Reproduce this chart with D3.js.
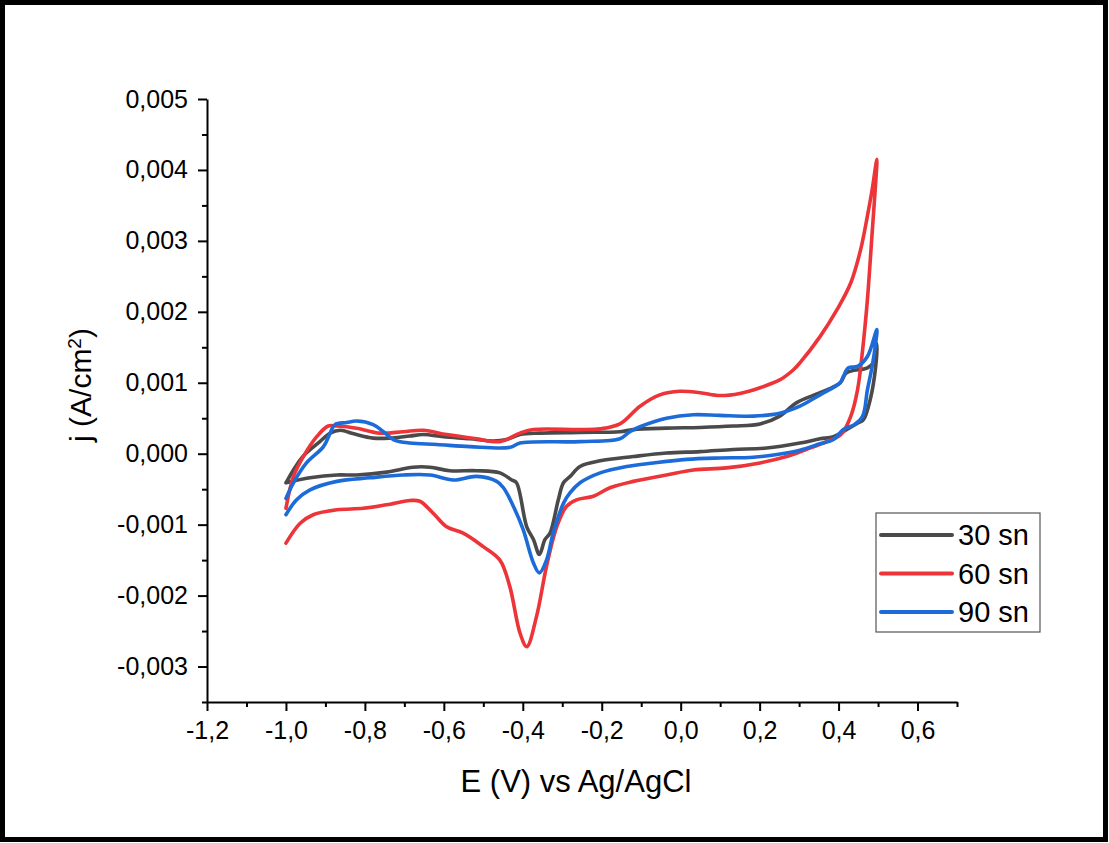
<!DOCTYPE html>
<html>
<head>
<meta charset="utf-8">
<script src="https://cdn.jsdelivr.net/npm/d3@7"></script>
<style>
  html, body { margin: 0; padding: 0; background: #fff; }
  svg { display: block; font-family: "Liberation Sans", Arial, sans-serif; }
</style>
</head>
<body>
<svg id="chart" width="1109" height="843"></svg>
<script>
// potentials (V vs Ag/AgCl) and current densities (A/cm2), loop order: forward then reverse
const e30 = [-1.0, -0.957, -0.914, -0.888, -0.862, -0.828, -0.779, -0.737, -0.686, -0.652, -0.601, -0.534, -0.475, -0.441, -0.407, -0.356, -0.255, -0.154, -0.12, -0.036, 0.049, 0.133, 0.201, 0.251, 0.294, 0.353, 0.404, 0.42, 0.473, 0.488, 0.497,
  0.494, 0.48, 0.463, 0.448, 0.42, 0.387, 0.353, 0.302, 0.218, 0.133, 0.049, -0.036, -0.12, -0.204, -0.255, -0.28, -0.297, -0.31, -0.331, -0.344, -0.358, -0.373, -0.39, -0.416, -0.428, -0.458, -0.517, -0.585, -0.635, -0.678, -0.745, -0.821, -0.871, -0.939, -1.0];
const j30 = [-0.00041, -0.00004, 0.00017, 0.00029, 0.00033, 0.00028, 0.00022, 0.00022, 0.00025, 0.00027, 0.00024, 0.00021, 0.00018, 0.0002, 0.00027, 0.00029, 0.0003, 0.00031, 0.00034, 0.00036, 0.00037, 0.00039, 0.00042, 0.00053, 0.00072, 0.00086, 0.001, 0.00114, 0.00121, 0.00128, 0.00155,
  0.00123, 0.00076, 0.00048, 0.00043, 0.00034, 0.00024, 0.00021, 0.00015, 0.00008, 0.00006, 0.00003, 0.00001, -0.00004, -0.0001, -0.00018, -0.00032, -0.00041, -0.00065, -0.00112, -0.00121, -0.00142, -0.00121, -0.00103, -0.00041, -0.00037, -0.00027, -0.00024, -0.00024, -0.00019, -0.00019, -0.00026, -0.0003, -0.0003, -0.00034, -0.00041];

const e60 = [-1.0, -0.981, -0.956, -0.922, -0.893, -0.872, -0.821, -0.762, -0.703, -0.652, -0.593, -0.517, -0.458, -0.407, -0.373, -0.255, -0.204, -0.154, -0.103, -0.053, -0.002, 0.049, 0.099, 0.15, 0.201, 0.251, 0.285, 0.302, 0.353, 0.396, 0.431, 0.456, 0.473, 0.485, 0.497,
  0.494, 0.485, 0.473, 0.461, 0.448, 0.431, 0.406, 0.37, 0.318, 0.268, 0.201, 0.116, 0.032, -0.036, -0.12, -0.179, -0.221, -0.264, -0.289, -0.314, -0.34, -0.365, -0.39, -0.407, -0.433, -0.458, -0.5, -0.551, -0.593, -0.627, -0.661, -0.686, -0.745, -0.804, -0.871, -0.931, -0.964, -1.0];
const j60 = [-0.00077, -0.00032, -0.00004, 0.00024, 0.00039, 0.00039, 0.00036, 0.00029, 0.00031, 0.00033, 0.00027, 0.00021, 0.00017, 0.00029, 0.00034, 0.00034, 0.00035, 0.00042, 0.00067, 0.00083, 0.00088, 0.00086, 0.00082, 0.00085, 0.00093, 0.00104, 0.00118, 0.00128, 0.00165, 0.00203, 0.00241, 0.00288, 0.00335, 0.00372, 0.00415,
  0.00382, 0.00311, 0.00217, 0.00147, 0.0009, 0.00053, 0.00027, 0.00017, 0.00006, -0.00004, -0.00013, -0.0002, -0.00023, -0.0003, -0.00039, -0.00048, -0.0006, -0.00065, -0.00074, -0.00103, -0.00159, -0.00229, -0.00272, -0.00253, -0.00187, -0.0015, -0.00131, -0.00112, -0.00103, -0.00084, -0.00067, -0.00066, -0.00072, -0.00077, -0.00079, -0.00086, -0.00098, -0.00126];

const e90 = [-1.0, -0.981, -0.948, -0.905, -0.888, -0.876, -0.846, -0.821, -0.779, -0.753, -0.728, -0.686, -0.618, -0.534, -0.432, -0.407, -0.255, -0.154, -0.129, -0.103, -0.036, 0.032, 0.099, 0.184, 0.251, 0.302, 0.353, 0.404, 0.412, 0.425, 0.448, 0.473, 0.497,
  0.494, 0.485, 0.473, 0.461, 0.44, 0.412, 0.387, 0.353, 0.302, 0.268, 0.184, 0.099, 0.015, -0.069, -0.137, -0.204, -0.255, -0.28, -0.297, -0.323, -0.34, -0.358, -0.373, -0.399, -0.424, -0.449, -0.466, -0.517, -0.576, -0.635, -0.703, -0.787, -0.871, -0.939, -0.973, -1.0];
const j90 = [-0.00063, -0.00041, -0.00013, 0.0001, 0.00029, 0.00041, 0.00044, 0.00046, 0.00041, 0.00031, 0.0002, 0.00015, 0.00013, 0.0001, 0.00009, 0.00015, 0.00017, 0.00021, 0.00031, 0.00038, 0.0005, 0.00055, 0.00054, 0.00053, 0.00057, 0.00067, 0.00083, 0.001, 0.00109, 0.00121, 0.00123, 0.00137, 0.00175,
  0.00156, 0.00123, 0.0009, 0.00053, 0.00041, 0.00034, 0.0002, 0.00014, 0.00005, 0.00001, -0.00005, -0.00006, -0.00008, -0.00013, -0.00018, -0.00027, -0.00041, -0.00055, -0.0007, -0.00112, -0.0015, -0.00168, -0.00154, -0.00107, -0.00074, -0.00048, -0.00039, -0.00032, -0.00037, -0.0003, -0.0003, -0.00034, -0.00039, -0.00051, -0.00065, -0.00086];

const seriesNames = ["30 sn", "60 sn", "90 sn"];
const seriesColors = ["#4a4a4a", "#ec3439", "#1d6bd8"];
const xTicks = [-1.2, -1.0, -0.8, -0.6, -0.4, -0.2, 0.0, 0.2, 0.4, 0.6];
const yTicks = [-0.003, -0.002, -0.001, 0.0, 0.001, 0.002, 0.003, 0.004, 0.005];

const series = [
  { name: seriesNames[0], color: seriesColors[0], e: e30, j: j30 },
  { name: seriesNames[1], color: seriesColors[1], e: e60, j: j60 },
  { name: seriesNames[2], color: seriesColors[2], e: e90, j: j90 }
];

const svg = d3.select("#chart");
const W = 1109, H = 843;

// frame round the whole picture
svg.append("rect")
  .attr("x", 2.5).attr("y", 2.5)
  .attr("width", W - 6).attr("height", H - 6)
  .attr("fill", "#fff").attr("stroke", "#000").attr("stroke-width", 5);

const x = d3.scaleLinear().domain([-1.2, 0.7]).range([207, 957]);
const y = d3.scaleLinear().domain([-0.0035, 0.005]).range([702, 99]);

const loc = d3.formatLocale({ decimal: ",", thousands: ".", grouping: [3], currency: ["", ""], minus: "-" });
const fx = loc.format(".1f");
const fy = loc.format(".3f");

// curves
const line = d3.line()
  .x(d => x(d[0]))
  .y(d => y(d[1]))
  .curve(d3.curveCatmullRom.alpha(0.5));

const plotG = svg.append("g");
series.forEach(s => {
  const pts = s.e.map((v, i) => [v, s.j[i]]);
  plotG.append("path")
    .attr("d", line(pts))
    .attr("fill", "none")
    .attr("stroke", s.color)
    .attr("stroke-width", 3.6)
    .attr("stroke-linejoin", "round")
    .attr("stroke-linecap", "round");
});

// axes
const xMinor = d3.range(-11, 8, 2).map(v => v / 10);
const yMinor = d3.range(-35, 50, 10).map(v => v / 10000);

const xAxis = svg.append("g")
  .attr("transform", `translate(0,${y.range()[0]})`)
  .call(d3.axisBottom(x).tickValues(xTicks).tickFormat(fx).tickSize(9).tickSizeOuter(0));
svg.append("g")
  .attr("transform", `translate(0,${y.range()[0]})`)
  .call(d3.axisBottom(x).tickValues(xMinor).tickFormat("").tickSize(5).tickSizeOuter(0))
  .call(g => g.select(".domain").remove());

const yAxis = svg.append("g")
  .attr("transform", `translate(${x.range()[0]},0)`)
  .call(d3.axisLeft(y).tickValues(yTicks).tickFormat(fy).tickSize(9).tickSizeOuter(0));
svg.append("g")
  .attr("transform", `translate(${x.range()[0]},0)`)
  .call(d3.axisLeft(y).tickValues(yMinor).tickFormat("").tickSize(5).tickSizeOuter(0))
  .call(g => g.select(".domain").remove());

svg.selectAll(".domain").attr("stroke", "#000").attr("stroke-width", 2);
svg.selectAll(".tick line").attr("stroke", "#000").attr("stroke-width", 2);

xAxis.selectAll("text")
  .attr("font-family", "Liberation Sans, Arial, sans-serif")
  .attr("font-size", 25)
  .attr("fill", "#000")
  .attr("y", 14)
  .attr("dy", "0.9em");
yAxis.selectAll("text")
  .attr("font-family", "Liberation Sans, Arial, sans-serif")
  .attr("font-size", 25)
  .attr("fill", "#000")
  .attr("x", -19);

// axis titles
svg.append("text")
  .attr("x", 576).attr("y", 792)
  .attr("text-anchor", "middle")
  .attr("font-size", 31)
  .text("E (V) vs Ag/AgCl");

const yt = svg.append("text")
  .attr("transform", "translate(91,385) rotate(-90)")
  .attr("text-anchor", "middle")
  .attr("font-size", 30);
yt.append("tspan").text("j (A/cm");
yt.append("tspan").attr("baseline-shift", "super").attr("font-size", 19).text("2");
yt.append("tspan").text(")");

// legend
const lg = svg.append("g").attr("transform", "translate(876,513)");
lg.append("rect")
  .attr("width", 164).attr("height", 119)
  .attr("fill", "#fff").attr("stroke", "#555").attr("stroke-width", 1.2);
series.forEach((s, i) => {
  const cy = 22 + i * 38.5;
  lg.append("line")
    .attr("x1", 5).attr("x2", 76)
    .attr("y1", cy).attr("y2", cy)
    .attr("stroke", s.color).attr("stroke-width", 4)
    .attr("stroke-linecap", "round");
  lg.append("text")
    .attr("x", 82).attr("y", cy)
    .attr("dy", "0.36em")
    .attr("font-size", 29)
    .text(s.name);
});
</script>
</body>
</html>
